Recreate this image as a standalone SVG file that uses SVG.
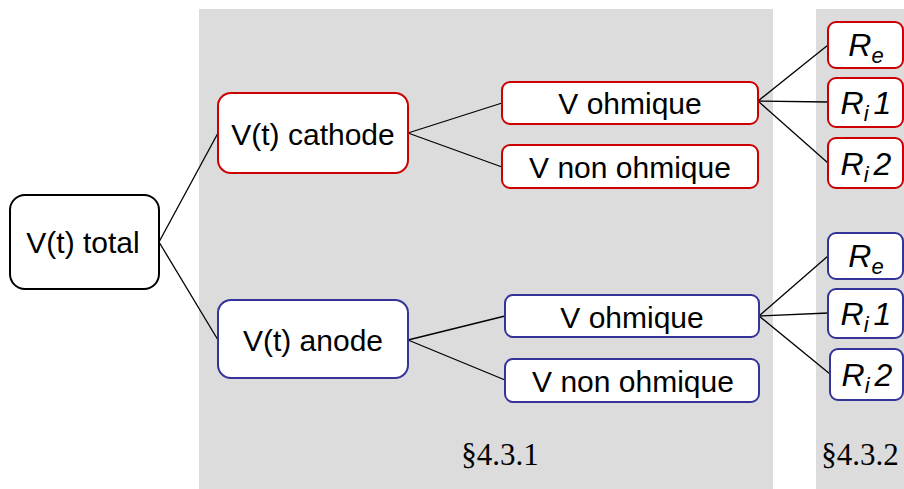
<svg xmlns="http://www.w3.org/2000/svg" width="904" height="489" viewBox="0 0 904 489">
<style>
.panel{fill:#dcdcdc;stroke:none}
.node{fill:#fff;stroke-width:2}
.blk{stroke:#000}
.red{stroke:#cc0000}
.blue{stroke:#333399}
.t{font-family:"Liberation Sans",Arial,sans-serif;font-size:30px;fill:#000;text-anchor:middle}
.r{font-family:"Liberation Sans",Arial,sans-serif;font-size:32px;font-style:italic;fill:#000;text-anchor:middle}
.sec{font-family:"Liberation Serif","Times New Roman",serif;font-size:31px;fill:#000;text-anchor:middle}
.conn line{stroke:#000;stroke-width:1.3}
</style>
<rect class="panel" x="199" y="9" width="574" height="480"/>
<rect class="panel" x="816" y="9" width="88" height="480"/>
<g class="conn">
<line x1="159" y1="242" x2="218" y2="133"/>
<line x1="159" y1="242" x2="218" y2="340"/>
<line x1="408" y1="133" x2="502" y2="103"/>
<line x1="408" y1="133" x2="502" y2="167"/>
<line x1="408" y1="340" x2="505" y2="316"/>
<line x1="408" y1="340" x2="505" y2="380"/>
<line x1="758" y1="101" x2="828" y2="45"/>
<line x1="758" y1="101" x2="828" y2="102"/>
<line x1="758" y1="101" x2="828" y2="163"/>
<line x1="759" y1="316" x2="828" y2="256"/>
<line x1="759" y1="316" x2="828" y2="313"/>
<line x1="759" y1="316" x2="830" y2="374"/>
</g>
<g id="total"><rect class="node blk" x="10" y="195" width="149" height="94" rx="15"/><text class="t" x="83" y="253">V(t) total</text></g>
<g id="cathode"><rect class="node red" x="218" y="93" width="190" height="80" rx="13"/><text class="t" x="313" y="145">V(t) cathode</text></g>
<g id="anode"><rect class="node blue" x="218" y="300" width="190" height="78" rx="13"/><text class="t" x="313" y="351">V(t) anode</text></g>
<g id="c_ohm"><rect class="node red" x="502" y="82" width="256" height="42" rx="8"/><text class="t" x="630" y="114">V ohmique</text></g>
<g id="c_nonohm"><rect class="node red" x="502" y="145" width="256" height="43" rx="8"/><text class="t" x="630" y="178">V non ohmique</text></g>
<g id="a_ohm"><rect class="node blue" x="505" y="295" width="254" height="42" rx="8"/><text class="t" x="632" y="328">V ohmique</text></g>
<g id="a_nonohm"><rect class="node blue" x="505" y="359" width="254" height="43" rx="8"/><text class="t" x="633" y="392">V non ohmique</text></g>
<g id="c_re"><rect class="node red" x="828" y="22" width="75" height="46" rx="8"/><text class="r" x="866" y="56">R<tspan font-size="22" dy="7">e</tspan></text></g>
<g id="c_ri1"><rect class="node red" x="828" y="78" width="75" height="49" rx="8"/><text class="r" x="866" y="114">R<tspan font-size="22" dy="7">i</tspan><tspan dy="-7" dx="5">1</tspan></text></g>
<g id="c_ri2"><rect class="node red" x="828" y="138" width="75" height="50" rx="8"/><text class="r" x="866" y="175">R<tspan font-size="22" dy="7">i</tspan><tspan dy="-7" dx="5">2</tspan></text></g>
<g id="a_re"><rect class="node blue" x="828" y="233" width="75" height="46" rx="8"/><text class="r" x="866" y="267">R<tspan font-size="22" dy="7">e</tspan></text></g>
<g id="a_ri1"><rect class="node blue" x="828" y="289" width="75" height="49" rx="8"/><text class="r" x="866" y="325">R<tspan font-size="22" dy="7">i</tspan><tspan dy="-7" dx="5">1</tspan></text></g>
<g id="a_ri2"><rect class="node blue" x="830" y="349" width="73" height="51" rx="8"/><text class="r" x="867" y="386">R<tspan font-size="22" dy="7">i</tspan><tspan dy="-7" dx="5">2</tspan></text></g>
<text class="sec" x="500" y="465">§4.3.1</text>
<text class="sec" x="860" y="465">§4.3.2</text>
</svg>
